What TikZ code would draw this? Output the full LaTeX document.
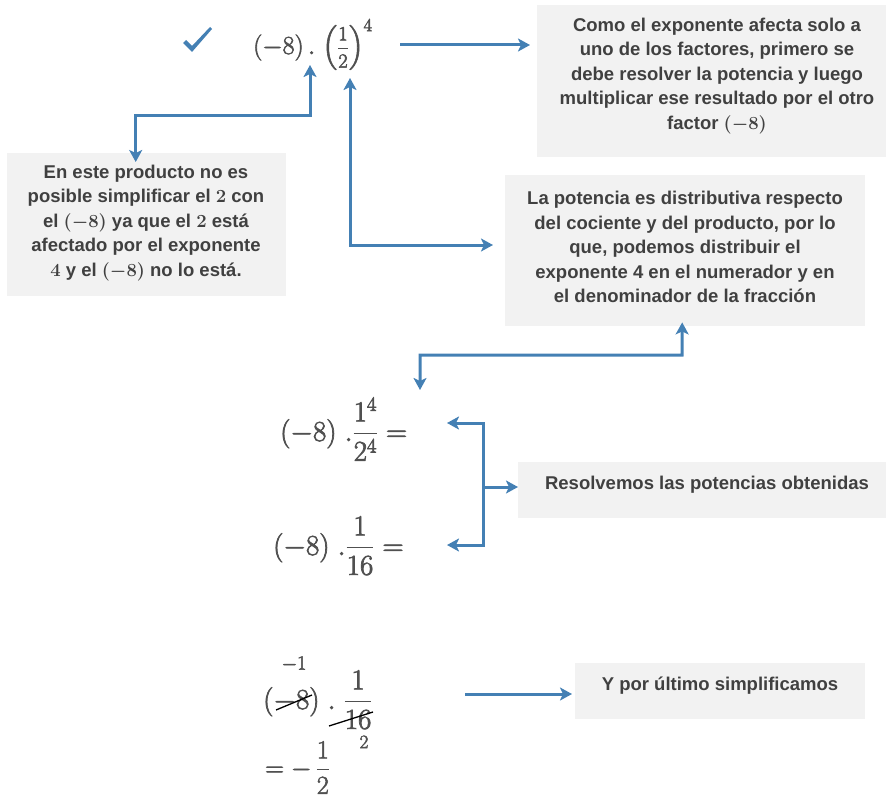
\RequirePackage{fix-cm}
\documentclass[tikz,border=0pt]{standalone}
\usepackage{amsmath}
\usepackage{fontspec}
\usetikzlibrary{arrows.meta}
\newfontfamily\boxfont{Liberation Sans}
\definecolor{arrblue}{RGB}{68,128,180}
\definecolor{boxgray}{RGB}{242,242,242}
\definecolor{txtgray}{RGB}{64,64,64}
\definecolor{mathgray}{RGB}{80,80,80}
\newcommand\heavy[2]{\special{pdf:literal direct 2 Tr #1 w}#2\special{pdf:literal direct 0 Tr}}
\begin{document}
\begin{tikzpicture}[x=1pt,y=-1pt,
  >={Stealth[length=12pt,width=13pt,inset=3pt]},
  conn/.style={draw=arrblue, line width=3pt},
  box/.style={fill=boxgray, inner sep=0pt, anchor=north west},
  boxtext/.style={text=txtgray, align=center, inner sep=0pt,
    font=\boxfont\bfseries\boldmath\fontsize{18.5}{24.5}\selectfont},
  formula/.style={text=mathgray, inner sep=0pt, anchor=base west},
  strike/.style={draw=black, line width=1.3pt}
]
\useasboundingbox (0,0) rectangle (886,800);

% boxes
\node[box, minimum width=349pt, minimum height=152pt] (box1) at (537,5) {};
\node[boxtext] (t1) at (717,76) {Como el exponente afecta solo a\\uno de los factores, primero se\\debe resolver la potencia y luego\\multiplicar ese resultado por el otro\\factor $(-8)$};

\node[box, minimum width=279pt, minimum height=143pt] (box2) at (7,153) {};
\node[boxtext] (t2) at (146,223) {En este producto no es\\posible simplificar el $2$ con\\el $(-8)$ ya que el $2$ está\\afectado por el exponente\\$4$ y el $(-8)$ no lo está.};

\node[box, minimum width=360pt, minimum height=151pt] (box3) at (505,175) {};
\node[boxtext] (t3) at (685,247) {La potencia es distributiva respecto\\del cociente y del producto, por lo\\que, podemos distribuir el\\exponente 4 en el numerador y en\\el denominador de la fracción};

\node[box, minimum width=368pt, minimum height=56pt] (box4) at (518,462) {};
\node[boxtext] (t4) at (707,485) {Resolvemos las potencias obtenidas};

\node[box, minimum width=290pt, minimum height=56pt] (box5) at (575,663) {};
\node[boxtext] (t5) at (720,686) {Y por último simplificamos};

% check mark
\fill[arrblue] (183,43) -- (186,40) -- (192,46) -- (210,27) -- (212,29) -- (192,52) -- cycle;

% formulas
\node[formula, font=\fontsize{26}{30}\selectfont] (f1) at (253,54) {\heavy{0.6}{$(-8)\,.\;\Bigl(\vcenter{\hbox{\fontsize{20}{24}\selectfont$\dfrac{1}{2}$}}\Bigr)^{4}$}};
\node[formula, font=\fontsize{29}{34}\selectfont] (f2) at (280,441) {\heavy{0.7}{$(-8)\;.\dfrac{1^4}{2^4}=$}};
\node[formula, font=\fontsize{29}{34}\selectfont] (f3) at (273,555) {\heavy{0.7}{$(-8)\;.\dfrac{1}{16}=$}};
\node[text=mathgray, inner sep=0pt, font=\fontsize{20}{24}\selectfont] (f4a) at (294,664) {\heavy{0.5}{$-1$}};
\node[formula, font=\fontsize{29}{34}\selectfont] (f4) at (263,709) {\heavy{0.7}{$(-8)\;.\;\dfrac{1}{16}$}};
\node[text=mathgray, inner sep=0pt, font=\fontsize{19}{22}\selectfont] (f4b) at (364,742) {\heavy{0.5}{$2$}};
\node[formula, font=\fontsize{26}{30}\selectfont] (f5) at (265,776) {\heavy{0.6}{$=-\,\dfrac{1}{2}$}};

% strike-throughs
\draw[strike] (276,710) -- (312,695);
\draw[strike] (329,726) -- (373,712);

% connector coordinates
\coordinate (aS) at (400,45);
\coordinate (tipB) at (310,65);
\coordinate (cB) at (310,115);
\coordinate (tipC) at (350,78);
\coordinate (endC) at (493,245);
\coordinate (cD) at (682,355);
\coordinate (tipD) at (420,390);
\coordinate (bT) at (447,423);
\coordinate (bTc) at (483,423);
\coordinate (bBc) at (483,545);
\coordinate (bB) at (447,545);
\coordinate (bM) at (483,487);
\coordinate (eS) at (465,694);

% connectors
\draw[conn,->,shorten >=7pt] (aS) -- (aS -| box1.west);
\draw[conn,<->] ([shift={(-11,9)}]box2.north) |- (cB) -- (tipB);
\draw[conn,<->] (tipC) |- (endC);
\draw[conn,<->] ([shift={(-3,-4)}]box3.south) -- (cD) -| (tipD);
\draw[conn,<->] (bT) -- (bTc) -- (bBc) -- (bB);
\draw[conn,->] (bM) -- (bM -| box4.west);
\draw[conn,->,shorten >=3pt] (eS) -- (eS -| box5.west);
\end{tikzpicture}
\end{document}
